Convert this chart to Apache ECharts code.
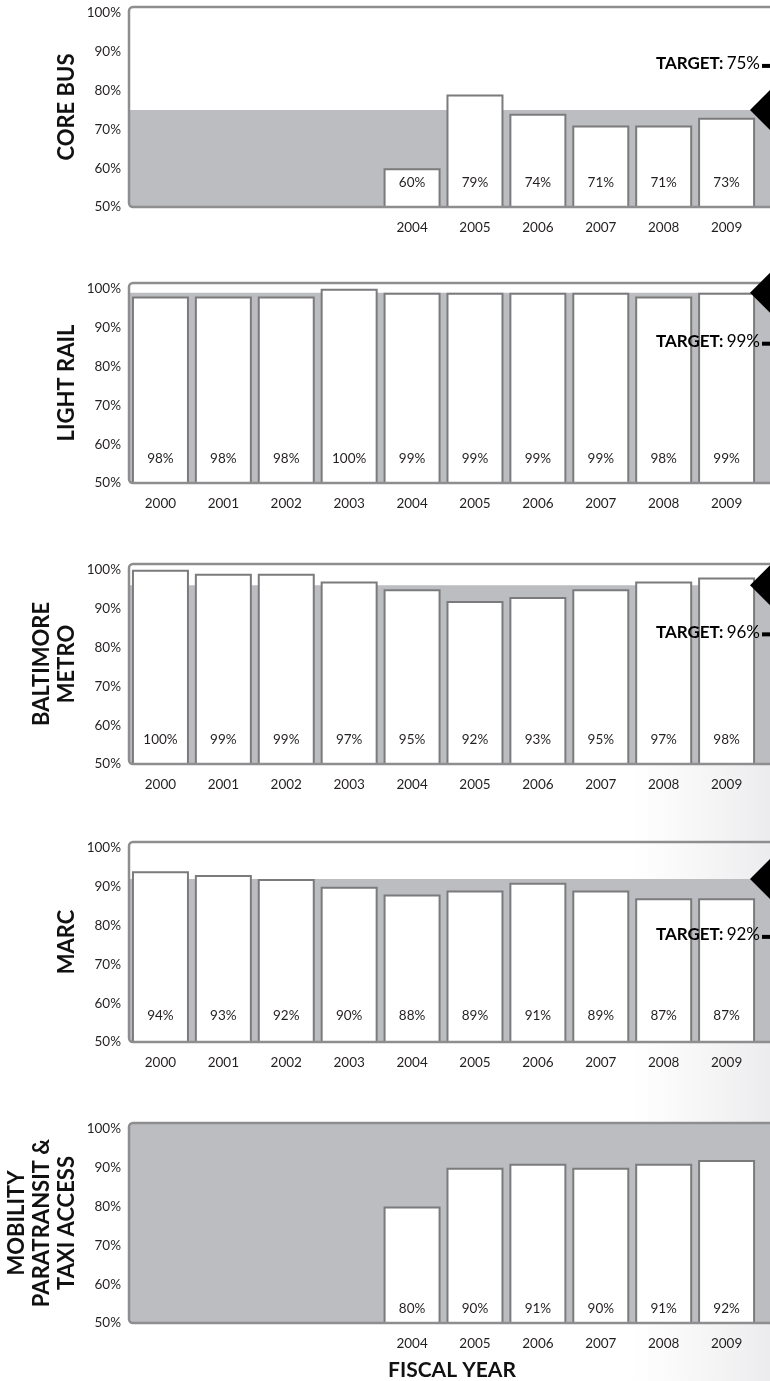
<!DOCTYPE html>
<html><head><meta charset="utf-8">
<script src="https://cdn.jsdelivr.net/npm/echarts@6/dist/echarts.min.js"></script>
<style>html,body{margin:0;padding:0;background:#fff}#c{width:770px;height:1381px}</style>
</head><body><div id="c"></div>
<script>
// ---------- DATA ----------
const allYears = [2000, 2001, 2002, 2003, 2004, 2005, 2006, 2007, 2008, 2009];
const shortYears = [2004, 2005, 2006, 2007, 2008, 2009];
const yTickValues = [50, 60, 70, 80, 90, 100];

const coreBusValues = [60, 79, 74, 71, 71, 73];
const coreBusTarget = 75;
const lightRailValues = [98, 98, 98, 100, 99, 99, 99, 99, 98, 99];
const lightRailTarget = 99;
const metroValues = [100, 99, 99, 97, 95, 92, 93, 95, 97, 98];
const metroTarget = 96;
const marcValues = [94, 93, 92, 90, 88, 89, 91, 89, 87, 87];
const marcTarget = 92;
const mobilityValues = [80, 90, 91, 90, 91, 92];
const mobilityTarget = null; // band fills whole panel, no target label

const panelNames = ['CORE BUS', 'LIGHT RAIL', 'BALTIMORE\nMETRO', 'MARC', 'MOBILITY\nPARATRANSIT &\nTAXI ACCESS'];
const xTitle = 'FISCAL YEAR';

const panels = [
  { name: panelNames[0], years: shortYears, values: coreBusValues, target: coreBusTarget },
  { name: panelNames[1], years: allYears, values: lightRailValues, target: lightRailTarget },
  { name: panelNames[2], years: allYears, values: metroValues, target: metroTarget },
  { name: panelNames[3], years: allYears, values: marcValues, target: marcTarget },
  { name: panelNames[4], years: shortYears, values: mobilityValues, target: mobilityTarget }
];

// ---------- LAYOUT ----------
const W = 770;
const gridTops = [7, 283, 564, 842, 1123];
const gridHeight = 200;
const gridLeft = 129;
const labelDistances = [18, 18, 18, 20, 8];
const targetTextOffsets = [-46, 49, 47, 56, 0];
const yMin = 50, yMax = 101.5;
const xMin = 1999.5, xMax = 2009.69;
const FONT = 'Lato, "Open Sans", sans-serif';
const TXT = '#231f20';
const BAND = '#bcbdc0';
const FRAME = '#8e8e90';

const grid = [], xAxis = [], yAxis = [], series = [];
panels.forEach((p, i) => {
  grid.push({ left: gridLeft, right: 0, top: gridTops[i], height: gridHeight, containLabel: false, outerBoundsMode: 'none' });
  xAxis.push({
    type: 'value', gridIndex: i, min: xMin, max: xMax, interval: 0.5,
    axisLine: { show: false }, axisTick: { show: false }, splitLine: { show: false },
    axisLabel: {
      margin: 14, color: TXT, fontFamily: FONT, fontSize: 13.5,
      formatter: v => (Number.isInteger(v) && p.years.indexOf(v) >= 0) ? String(v) : ''
    }
  });
  yAxis.push({
    type: 'value', gridIndex: i, min: yMin, max: yMax, interval: 10,
    axisLine: { show: false }, axisTick: { show: false }, splitLine: { show: false },
    axisLabel: {
      margin: 8, color: TXT, fontFamily: FONT, fontSize: 13.5,
      formatter: v => yTickValues.indexOf(v) >= 0 ? v + '%' : ''
    }
  });
  series.push({
    type: 'line', xAxisIndex: i, yAxisIndex: i, data: [], silent: true,
    markArea: {
      silent: true, itemStyle: { color: BAND, opacity: 1 },
      data: [[{ yAxis: yMin }, { yAxis: p.target == null ? yMax : p.target }]]
    }
  });
  series.push({
    type: 'bar', xAxisIndex: i, yAxisIndex: i, z: 3, barWidth: 57,
    data: p.years.map((y, k) => [y, p.values[k]]),
    itemStyle: { color: '#ffffff', borderColor: '#7b7b7d', borderWidth: 2 },
    label: {
      show: true, position: 'insideBottom', distance: labelDistances[i],
      color: TXT, fontFamily: FONT, fontSize: 13.5,
      formatter: prm => prm.value[1] + '%'
    }
  });
});

const chart = echarts.init(document.getElementById('c'), null, { renderer: 'canvas' });
chart.setOption({
  animation: false,
  backgroundColor: '#ffffff',
  grid, xAxis, yAxis, series
});

// decorations derived from layout + target values
const graphic = [];
graphic.push({
  type: 'rect', silent: true, z: -1,
  shape: { x: 630, y: 760, width: 140, height: 621 },
  style: {
    fill: new echarts.graphic.LinearGradient(0, 0, 1, 0, [
      { offset: 0, color: 'rgba(240,240,241,0)' },
      { offset: 1, color: 'rgba(236,236,238,1)' }
    ])
  }
});
panels.forEach((p, i) => {
  const top = gridTops[i];
  graphic.push({
    type: 'rect', silent: true, z: 20,
    shape: { x: gridLeft, y: top, width: W - gridLeft + 30, height: gridHeight, r: 4 },
    style: { fill: null, stroke: FRAME, lineWidth: 2.5 }
  });
  const nLines = p.name.split('\n').length;
  graphic.push({
    type: 'text', silent: true, z: 20,
    x: 67 - (nLines - 1) * 25 / 2, y: top + gridHeight / 2, rotation: Math.PI / 2,
    style: {
      text: p.name, align: 'center', verticalAlign: 'middle',
      font: 'bold 22px ' + FONT, fill: '#111', lineHeight: 25
    }
  });
  if (p.target != null) {
    const ty = chart.convertToPixel({ gridIndex: i }, [2000, p.target])[1];
    graphic.push({
      type: 'polygon', silent: true, z: 25,
      shape: { points: [[W - 20, ty], [W, ty - 20], [W + 20, ty], [W, ty + 20]] },
      style: { fill: '#000' }
    });
    const tyText = ty + targetTextOffsets[i];
    graphic.push({
      type: 'text', silent: true, z: 25, x: 760, y: tyText,
      style: {
        text: '{b|TARGET:} {n|' + p.target + '%}',
        align: 'right', verticalAlign: 'middle',
        rich: {
          b: { fontFamily: FONT, fontWeight: 'bold', fontSize: 17, fill: '#000', color: '#000' },
          n: { fontFamily: FONT, fontSize: 17, fill: '#000', color: '#000' }
        }
      }
    });
    graphic.push({
      type: 'rect', silent: true, z: 25,
      shape: { x: 762, y: tyText, width: 8, height: 4 },
      style: { fill: '#000' }
    });
  }
});
graphic.push({
  type: 'text', silent: true, z: 20, x: 452, y: 1370,
  style: { text: xTitle, align: 'center', verticalAlign: 'middle', font: 'bold 21px ' + FONT, fill: '#111' }
});
chart.setOption({ graphic });
</script>
</body></html>
